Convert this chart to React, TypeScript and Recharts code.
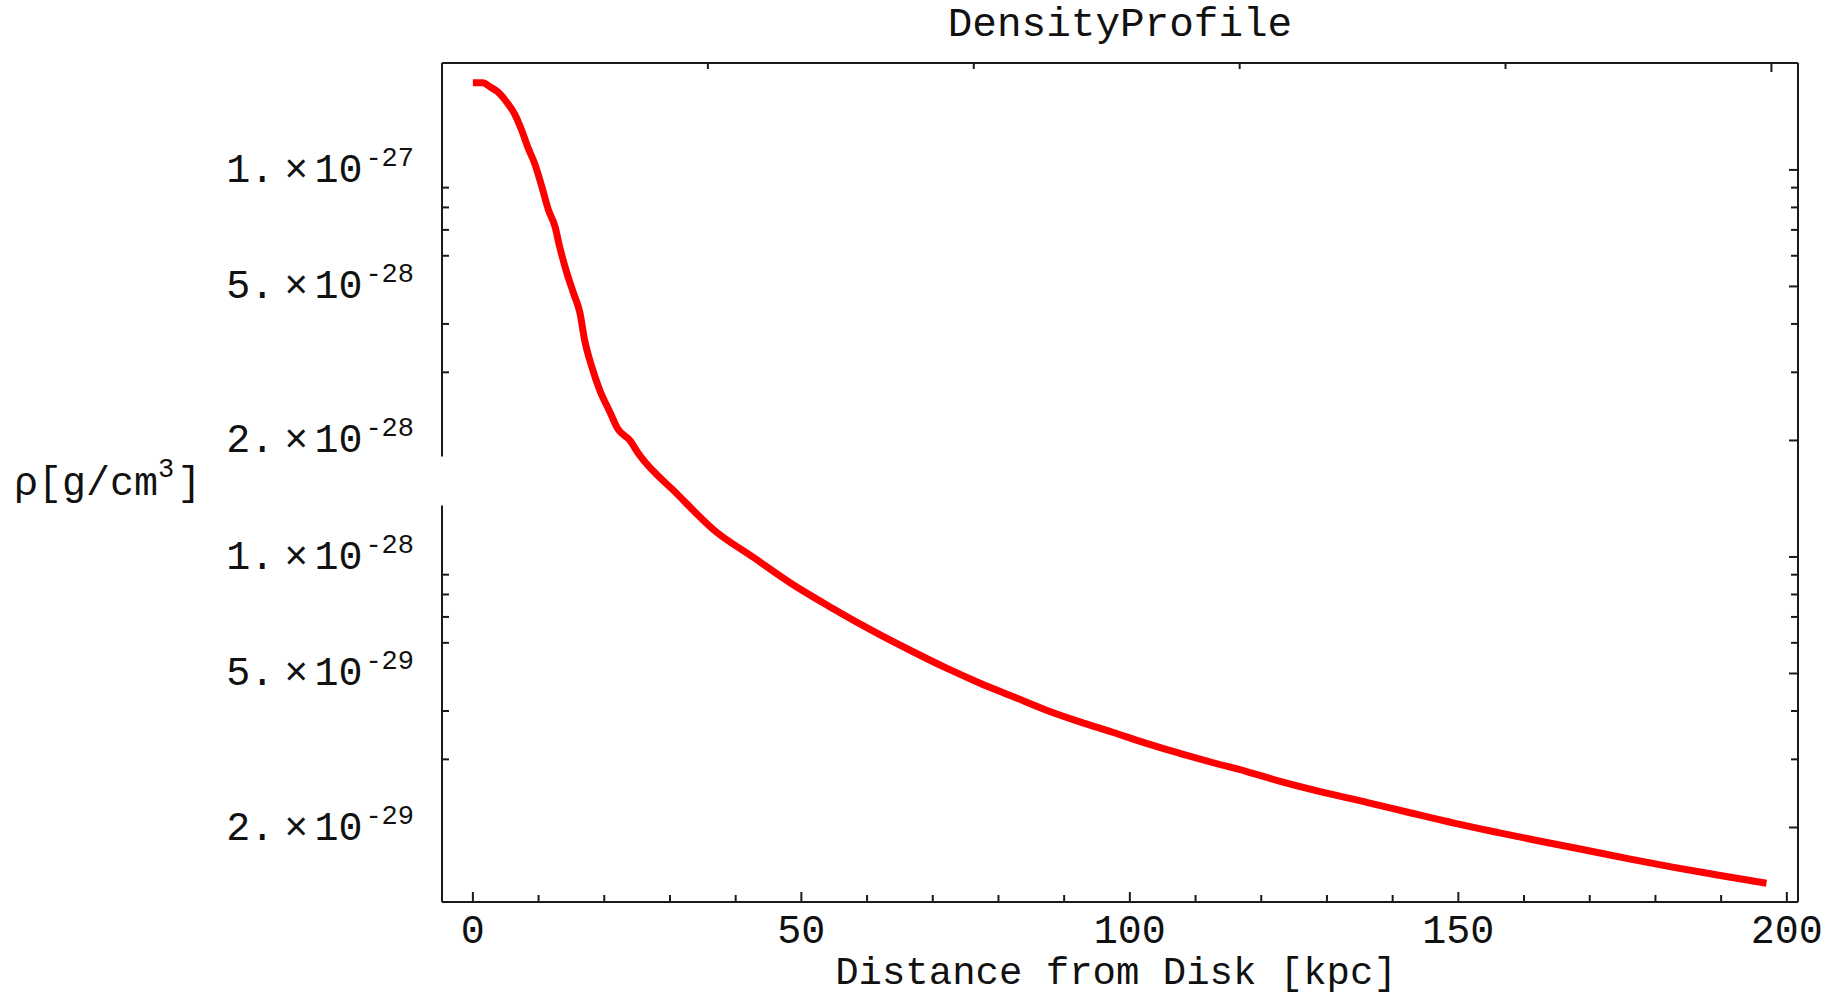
import React from 'react';
import { LineChart, Line, XAxis, YAxis } from 'recharts';

// Distance from disk [kpc]
const distanceKpc: number[] = [
  0, 1.5, 2.6, 3.8, 5.1, 6.4, 7.4, 8.4, 9.4, 10.5, 11.5, 12.5, 13.2, 14.3, 15.3,
  16.3, 17.0, 18.1, 19.3, 20.9, 22.0, 23.9, 25.2, 31.0, 36.8, 42.6, 48.4, 54.3,
  62.0, 67.0, 72.1, 77.2, 82.2, 87.3, 92.4, 97.5, 102.5, 107.6, 112.7, 117.8,
  122.9, 129.6, 136.2, 142.8, 149.5, 156.1, 162.7, 169.3, 176.0, 182.6, 189.2, 196.9,
];

// Density rho [g/cm^3]
const density: number[] = [
  1.68e-27, 1.68e-27, 1.64e-27, 1.59e-27, 1.5e-27, 1.39e-27, 1.27e-27, 1.14e-27,
  1.04e-27, 9.05e-28, 7.88e-28, 7.14e-28, 6.34e-28, 5.42e-28, 4.81e-28, 4.27e-28,
  3.64e-28, 3.1e-28, 2.7e-28, 2.36e-28, 2.15e-28, 2.0e-28, 1.85e-28, 1.46e-28,
  1.17e-28, 1.0e-28, 8.55e-29, 7.44e-29,
  6.29e-29, 5.69e-29, 5.16e-29, 4.72e-29, 4.36e-29, 4.02e-29, 3.75e-29, 3.52e-29,
  3.3e-29, 3.11e-29, 2.94e-29, 2.79e-29,
  2.63e-29, 2.46e-29, 2.32e-29, 2.18e-29, 2.05e-29, 1.94e-29, 1.84e-29, 1.75e-29,
  1.66e-29, 1.58e-29, 1.51e-29, 1.435e-29,
];

const xMajorTicks: number[] = [0, 50, 100, 150, 200];
const xAllTicks: number[] = [0, 10, 20, 30, 40, 50, 60, 70, 80, 90, 100, 110, 120, 130, 140, 150, 160, 170, 180, 190, 200];
const yMajorTicks: number[] = [2e-29, 5e-29, 1e-28, 2e-28, 5e-28, 1e-27];
const yMinorTicks: number[] = [3e-29, 4e-29, 6e-29, 7e-29, 8e-29, 9e-29, 3e-28, 4e-28, 6e-28, 7e-28, 8e-28, 9e-28];

const X_DOMAIN: [number, number] = [-4.7, 201.7];
const Y_DOMAIN: [number, number] = [1.284e-29, 1.889e-27];

const TITLE = 'DensityProfile';
const X_LABEL = 'Distance from Disk [kpc]';

const data = distanceKpc.map((x, i) => ({ x, rho: density[i] }));
const yAllTicks = [...yMajorTicks, ...yMinorTicks].sort((a, b) => a - b);

const FONT = '"Liberation Mono", "Courier New", monospace';
const INK = '#111';
const FRAME = '#1a1a1a';
const FRAME_W = 2;

const isMajorY = (v: number) => yMajorTicks.some((m) => Math.abs(m - v) / m < 1e-6);
const isMajorX = (v: number) => xMajorTicks.some((m) => Math.abs(m - v) < 1e-9);

const splitSci = (v: number) => {
  const e = Math.floor(Math.log10(v) + 1e-9);
  const m = Math.round(v / Math.pow(10, e));
  return { m, e };
};

const BottomTick = (props: any) => {
  const { x, y, payload } = props;
  const v = payload.value;
  const major = isMajorX(v);
  return (
    <g>
      <line x1={x} x2={x} y1={y} y2={y - (major ? 10 : 7)} stroke={FRAME} strokeWidth={2} />
      {major && (
        <text x={x} y={y + 41} textAnchor="middle" fontFamily={FONT} fontSize={40} fill={INK}>
          {String(v)}
        </text>
      )}
    </g>
  );
};

const TopTick = (props: any) => {
  const { x, y, payload } = props;
  const major = isMajorX(payload.value);
  return <line x1={x} x2={x} y1={y} y2={y + (major ? 9 : 6)} stroke={FRAME} strokeWidth={2} />;
};

const LeftTick = (props: any) => {
  const { x, y, payload } = props;
  const v = payload.value;
  if (!isMajorY(v)) {
    return <line x1={x} x2={x + 7} y1={y} y2={y} stroke={FRAME} strokeWidth={2} />;
  }
  const { m, e } = splitSci(v);
  return (
    <text x={x - 28} y={y + 12} textAnchor="end" fontFamily={FONT} fontSize={40} fill={INK}>
      <tspan>{`${m}.`}</tspan>
      <tspan dx={10}>×</tspan>
      <tspan dx={6}>10</tspan>
      <tspan dx={3} dy={-16} fontSize={27}>{`-${Math.abs(e)}`}</tspan>
    </text>
  );
};

const RightTick = (props: any) => {
  const { x, y, payload } = props;
  const major = isMajorY(payload.value);
  return <line x1={x} x2={x - (major ? 9 : 7)} y1={y} y2={y} stroke={FRAME} strokeWidth={2} />;
};

const TitleLabel = (props: any) => {
  const vb = props.viewBox || {};
  return (
    <text x={vb.x + vb.width / 2} y={vb.y + 36} textAnchor="middle" fontFamily={FONT} fontSize={41} fill={INK}>
      {TITLE}
    </text>
  );
};

const XTitleLabel = (props: any) => {
  const vb = props.viewBox || {};
  return (
    <text x={vb.x + vb.width / 2 - 4} y={vb.y + 82} textAnchor="middle" fontFamily={FONT} fontSize={39} fill={INK}>
      {X_LABEL}
    </text>
  );
};

const YTitleLabel = (props: any) => {
  const vb = props.viewBox || {};
  const cy = vb.y + vb.height / 2;
  const axisX = vb.x + vb.width;
  return (
    <g>
      <rect x={axisX - 4} y={cy - 26} width={8} height={49} fill="#ffffff" />
      <text x={14} y={cy + 12.5} fontFamily={FONT} fontSize={40} fill={INK}>
        <tspan>ρ[g/cm</tspan>
        <tspan dy={-18} fontSize={27}>3</tspan>
        <tspan dx={3} dy={18} fontSize={40}>]</tspan>
      </text>
    </g>
  );
};

export default function App() {
  return (
    <div style={{ position: 'absolute', left: 0, top: 0, width: 1833, height: 996, background: '#ffffff' }}>
      <LineChart width={1833} height={996} data={data} margin={{ top: 0, right: 0, bottom: 0, left: 0 }}>
        <XAxis
          xAxisId="bottom"
          dataKey="x"
          type="number"
          domain={X_DOMAIN}
          allowDataOverflow
          ticks={xAllTicks}
          interval={0}
          tickSize={0}
          tickMargin={0}
          tickLine={false}
          tick={BottomTick}
          axisLine={{ stroke: FRAME, strokeWidth: FRAME_W }}
          height={94}
          label={XTitleLabel}
        />
        <XAxis
          xAxisId="top"
          orientation="top"
          type="number"
          domain={X_DOMAIN}
          allowDataOverflow
          ticks={xAllTicks}
          interval={0}
          tickSize={0}
          tickMargin={0}
          tickLine={false}
          tick={TopTick}
          axisLine={{ stroke: FRAME, strokeWidth: FRAME_W }}
          height={63}
          label={TitleLabel}
        />
        <YAxis
          yAxisId="left"
          type="number"
          scale="log"
          domain={Y_DOMAIN}
          allowDataOverflow
          ticks={yAllTicks}
          interval={0}
          tickSize={0}
          tickMargin={0}
          tickLine={false}
          tick={LeftTick}
          axisLine={{ stroke: FRAME, strokeWidth: FRAME_W }}
          width={442}
          label={YTitleLabel}
        />
        <YAxis
          yAxisId="right"
          orientation="right"
          type="number"
          scale="log"
          domain={Y_DOMAIN}
          allowDataOverflow
          ticks={yAllTicks}
          interval={0}
          tickSize={0}
          tickMargin={0}
          tickLine={false}
          tick={RightTick}
          axisLine={{ stroke: FRAME, strokeWidth: FRAME_W }}
          width={35}
        />
        <Line
          xAxisId="bottom"
          yAxisId="left"
          dataKey="rho"
          type="monotone"
          stroke="#ff0000"
          strokeWidth={7}
          dot={false}
          activeDot={false}
          isAnimationActive={false}
        />
      </LineChart>
    </div>
  );
}
